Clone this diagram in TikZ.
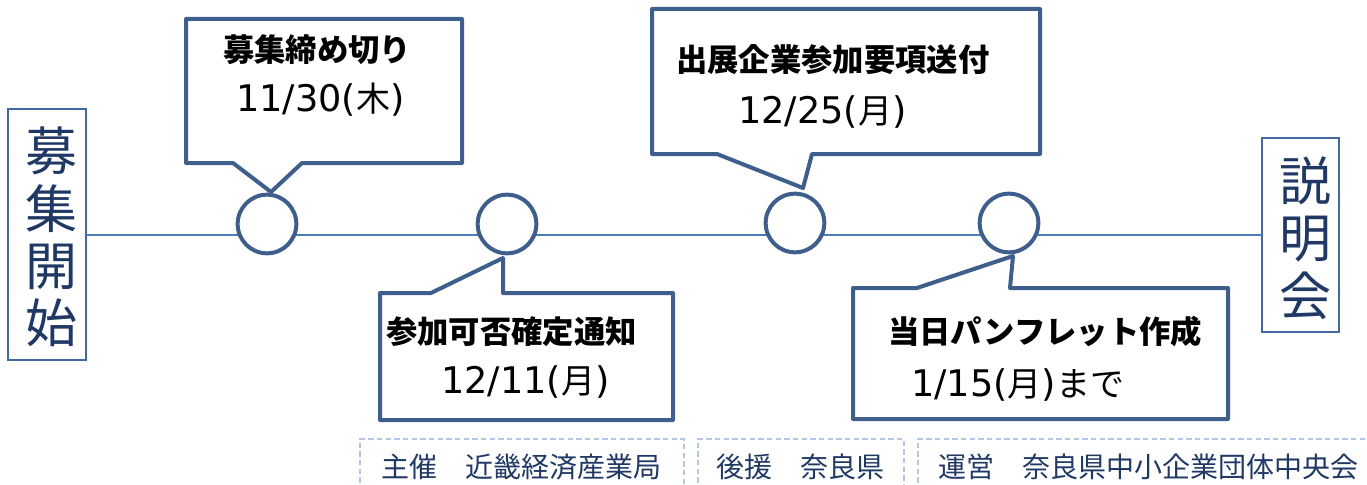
\documentclass[tikz,border=0pt]{standalone}
\usepackage{fontspec}
\setmainfont{Noto Sans CJK JP}
\newfontfamily\latinnum{DejaVu Sans}
\definecolor{callout}{RGB}{62,95,140}
\definecolor{tline}{RGB}{74,126,187}
\definecolor{sidebox}{RGB}{65,105,160}
\definecolor{navy}{RGB}{31,56,100}
\definecolor{dashc}{RGB}{180,199,231}
\newcommand{\myln}[1]{{\latinnum\fontsize{27.5}{30}\selectfont #1}}
\begin{document}
\begin{tikzpicture}[x=0.75pt,y=-0.75pt,
  sidestyle/.style={draw=sidebox,line width=1.5pt,fill=white},
  sidetext/.style={text=navy,font=\fontsize{39}{43}\selectfont,align=center,inner sep=0},
  callbox/.style={draw=callout,line width=3pt,line join=round,fill=white},
  dot/.style={circle,draw=callout,line width=3pt,fill=white,minimum size=44pt,inner sep=0},
  ctext/.style={anchor=west,inner sep=0,font=\fontsize{23.5}{26}\selectfont\bfseries},
  dtext/.style={anchor=base west,inner sep=0,font=\fontsize{25.5}{28}\selectfont},
  orgbox/.style={draw=dashc,line width=1.2pt,dash pattern=on 4pt off 2.5pt},
  orgtext/.style={anchor=west,inner sep=0,text=navy,font=\fontsize{21}{24}\selectfont}]
\useasboundingbox (0,0) rectangle (1367,485);
% side boxes
\draw[sidestyle] (8,109) rectangle (86,360);
\node[sidetext] (start) at (52,237) {募\\集\\開\\始};
\coordinate (startE) at (86,235);
\draw[sidestyle] (1262,138) rectangle (1339,332);
\node[sidetext] (end) at (1305,238) {説\\明\\会};
\coordinate (endW) at (1262,235);
% timeline
\draw[tline,line width=1.5pt] (startE) -- (endW);
% callouts
\draw[callbox] (186,19) -- (462,19) -- (462,163) -- (302,163) -- (271,192) -- (233,163) -- (186,163) -- cycle;
\draw[callbox] (380,293) -- (431,293) -- (503,258) -- (503,293) -- (673,293) -- (673,420) -- (380,420) -- cycle;
\draw[callbox] (652,9) -- (1040,9) -- (1040,154) -- (812,154) -- (803,188) -- (717,154) -- (652,154) -- cycle;
\draw[callbox] (853,288) -- (917,288) -- (1013,256) -- (1010,288) -- (1228,288) -- (1228,419) -- (853,419) -- cycle;
% circles
\node[dot] (m1) at (267,224) {};
\node[dot] (m2) at (507,224) {};
\node[dot] (m3) at (795,223) {};
\node[dot] (m4) at (1009,223) {};
% callout texts
\node[ctext] (t1a) at (223,50) {募集締め切り};
\node[dtext] (t1b) at (236,112) {\myln{11/30(}木\myln{)}};
\node[ctext] (t2a) at (386,332) {参加可否確定通知};
\node[dtext] (t2b) at (441,393) {\myln{12/11(}月\myln{)}};
\node[ctext] (t3a) at (676,60) {出展企業参加要項送付};
\node[dtext] (t3b) at (738,123) {\myln{12/25(}月\myln{)}};
\node[ctext] (t4a) at (888,332) {当日パンフレット作成};
\node[dtext] (t4b) at (911,396) {\myln{1/15(}月\myln{)}まで};
% organisers
\draw[orgbox] (360,500) -- (360,439) -- (684,439) -- (684,500);
\draw[orgbox] (698,500) -- (698,439) -- (904,439) -- (904,500);
\draw[orgbox] (918,500) -- (918,439) -- (1380,439);
\node[orgtext] (o1) at (381,467) {主催　近畿経済産業局};
\node[orgtext] (o2) at (716,467) {後援　奈良県};
\node[orgtext] (o3) at (938,467) {運営　奈良県中小企業団体中央会};
\end{tikzpicture}
\end{document}
